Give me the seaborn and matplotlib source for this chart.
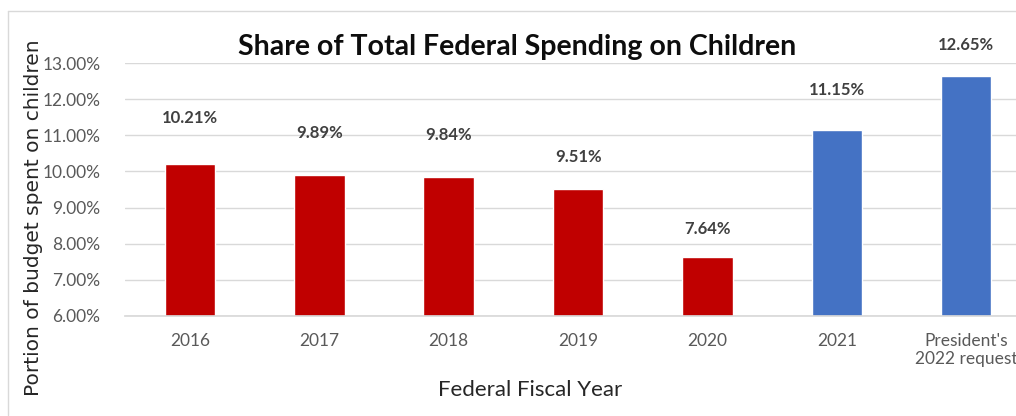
import matplotlib
matplotlib.use("Agg")
import matplotlib.pyplot as plt
import seaborn as sns
import pandas as pd
from matplotlib.ticker import PercentFormatter

# data
years = ["2016", "2017", "2018", "2019", "2020", "2021", "President's\n2022 request"]
share = [10.21, 9.89, 9.84, 9.51, 7.64, 11.15, 12.65]
bar_colors = ["#C00000"] * 5 + ["#4472C4"] * 2
# excel labels were nudged by hand, so keep their offsets (in % units)
label_offsets = [1.27, 1.18, 1.17, 0.90, 0.76, 1.10, 0.84]

df = pd.DataFrame({"year": years, "share": share})

sns.set_theme(style="white")
plt.rcParams["font.family"] = ["Lato", "DejaVu Sans"]

fig = plt.figure(figsize=(10.16, 4.16), dpi=100)
ax = fig.add_axes([0.1233, 0.2404, 0.8914, 0.608])

sns.barplot(data=df, x="year", y="share", hue="year", palette=bar_colors,
            legend=False, width=0.39, ax=ax, saturation=1)

ax.set_ylim(6, 13)
ax.set_xlim(-0.5, 6.5)
ax.set_yticks(range(6, 14))
ax.yaxis.set_major_formatter(PercentFormatter(decimals=2))
ax.grid(axis="y", color="#d9d9d9", linewidth=1)
ax.set_axisbelow(True)
for side in ["top", "right", "left"]:
    ax.spines[side].set_visible(False)
ax.spines["bottom"].set_color("#d9d9d9")
ax.tick_params(axis="both", length=0, labelsize=12.5, colors="#595959")
ax.tick_params(axis="x", pad=12)
ax.tick_params(axis="y", pad=18)

for i, (v, off) in enumerate(zip(share, label_offsets)):
    ax.text(i, v + off, f"{v:.2f}%", ha="center", va="center", fontsize=12,
            fontweight="bold", color="#404040", clip_on=False)

ax.set_xlabel("Federal Fiscal Year", fontsize=16, color="#262626")
ax.xaxis.set_label_coords(0.447, -0.255)
ax.set_ylabel("")
fig.text(0.033, 0.477, "Portion of budget spent on children", rotation=90,
         ha="center", va="center", fontsize=14.5, color="#262626",
         family=["DejaVu Sans"])
fig.text(0.509, 0.887, "Share of Total Federal Spending on Children",
         ha="center", va="center", fontsize=20.5, fontweight="bold", color="#0d0d0d")

# chart-area border (cropped on the right, like the original screenshot)
fig.add_artist(plt.Line2D([0.008, 0.008], [0.003, 0.974], color="#d9d9d9", lw=1))
fig.add_artist(plt.Line2D([0.008, 1.0], [0.974, 0.974], color="#d9d9d9", lw=1))

fig.savefig("out.png", dpi=100)
